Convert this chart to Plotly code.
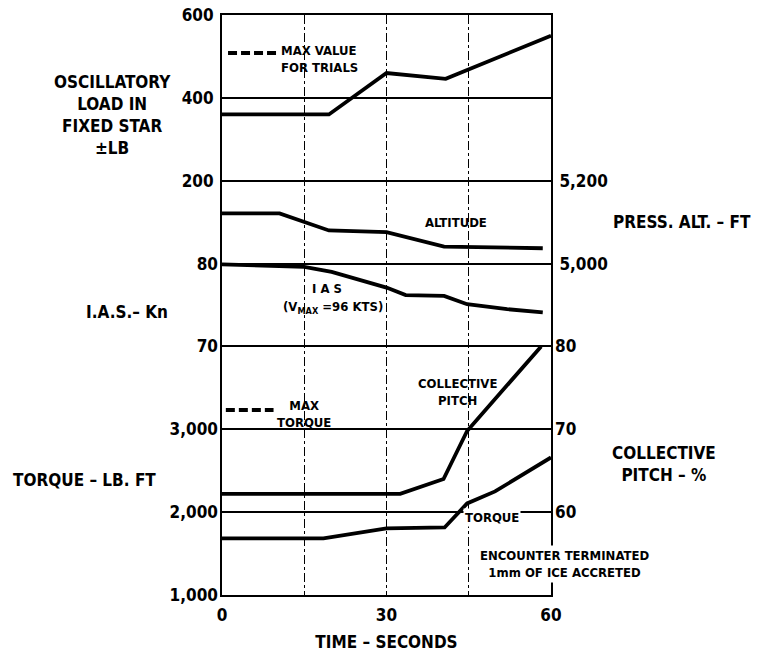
import plotly.graph_objects as go

# ---------------- data ----------------
t_load = [0, 19.5, 30, 40.8, 60]
osc_load = [360, 360, 460, 446, 550]

t_alt = [0, 10.5, 19.5, 30, 40.5, 58.5]
press_alt = [5121, 5121, 5080, 5076, 5041, 5037]

t_ias = [0, 15, 20, 24, 30, 33.5, 40.5, 44.7, 52, 58.5]
ias = [79.9, 79.6, 79.0, 78.2, 77.1, 76.2, 76.1, 75.1, 74.5, 74.1]

t_torque = [0, 18.5, 30, 40.6, 44.7, 49.8, 60]
torque = [1684, 1684, 1804, 1815, 2105, 2250, 2660]

t_coll = [0, 32.5, 40.4, 44.7, 58.2]
coll_pitch = [62.2, 62.2, 64.0, 69.8, 80.0]

# legend keys (dashed "max" samples)
key_load_t = [1.1, 10.0]
key_load_val = [508, 508]
key_torque_t = [0.7, 9.4]
key_torque_val = [3233, 3233]

# tick labels
x_ticks = [0, 30, 60]
x_minor = [15, 30, 45]
load_ticks = [200, 400, 600]
alt_ticks = [5000, 5200]
alt_text = ["5,000", "5,200"]
ias_ticks = [70, 80]
torque_ticks = [1000, 2000, 3000]
torque_text = ["1,000", "2,000", "3,000"]
coll_ticks = [60, 70, 80]

# ---------------- styling ----------------
FONT = "DejaVu Sans Condensed, DejaVu Sans, sans-serif"
BLACK = "#000000"
LW = 3.8
W, H = 767, 652
L, T, R, B = 222, 15, 216, 57
PW, PH = W - L - R, H - T - B


def px(x):
    return (x - L) / PW


def py(y):
    return (H - B - y) / PH


fig = go.Figure()
line = dict(color=BLACK, width=LW)
fig.add_trace(go.Scatter(x=t_load, y=osc_load, mode="lines", line=line, yaxis="y"))
fig.add_trace(go.Scatter(x=t_alt, y=press_alt, mode="lines", line=line, yaxis="y2"))
fig.add_trace(go.Scatter(x=t_ias, y=ias, mode="lines", line=line, yaxis="y3"))
fig.add_trace(go.Scatter(x=t_torque, y=torque, mode="lines", line=line, yaxis="y4"))
fig.add_trace(go.Scatter(x=t_coll, y=coll_pitch, mode="lines", line=line, yaxis="y5"))
dash = dict(color=BLACK, width=4, dash="9px,4px")
fig.add_trace(go.Scatter(x=key_load_t, y=key_load_val, mode="lines", line=dash, yaxis="y"))
fig.add_trace(go.Scatter(x=key_torque_t, y=key_torque_val, mode="lines", line=dash, yaxis="y4"))

tickfont = dict(family=FONT, size=17, color=BLACK, weight="bold")
common_y = dict(domain=[0, 1], ticks="", zeroline=False, tickfont=tickfont,
                ticklabelstandoff=3, fixedrange=True, automargin=False,
                ticklabeloverflow="allow")

fig.update_layout(
    width=W, height=H,
    margin=dict(l=L, r=R, t=T, b=B, autoexpand=False),
    paper_bgcolor="white", plot_bgcolor="white",
    showlegend=False,
    xaxis=dict(range=[0, 60], domain=[0, 1], tickvals=x_ticks, ticks="",
               showgrid=False, zeroline=False, showline=True, mirror=True,
               linecolor=BLACK, linewidth=2, tickfont=tickfont, fixedrange=True,
               ticklabelstandoff=4, automargin=False, ticklabeloverflow="allow",
               minor=dict(tickvals=x_minor, showgrid=True, gridcolor=BLACK,
                          gridwidth=1, griddash="dashdot", ticks=""),
               title=dict(text="TIME – SECONDS", standoff=14,
                          font=dict(family=FONT, size=17, color=BLACK, weight="bold"))),
    yaxis=dict(range=[-800, 600], tickvals=load_ticks, side="left",
               showgrid=True, gridcolor=BLACK, gridwidth=2,
               showline=True, linecolor=BLACK, linewidth=2, **common_y),
    yaxis2=dict(range=[4200, 5600], tickvals=alt_ticks, ticktext=alt_text,
                side="right", overlaying="y", showgrid=False,
                showline=True, linecolor=BLACK, linewidth=2, **common_y),
    yaxis3=dict(range=[40, 110], tickvals=ias_ticks, side="left", overlaying="y",
                showgrid=True, gridcolor=BLACK, gridwidth=2, showline=False, **common_y),
    yaxis4=dict(range=[1000, 8000], tickvals=torque_ticks, ticktext=torque_text,
                side="left", overlaying="y",
                showgrid=True, gridcolor=BLACK, gridwidth=2, showline=False, **common_y),
    yaxis5=dict(range=[50, 120], tickvals=coll_ticks, side="right", overlaying="y",
                showgrid=False, showline=False, **common_y),
)

big = dict(family=FONT, size=17, color=BLACK, weight="bold")
small = dict(family=FONT, size=13, color=BLACK, weight="bold")


def ann(text, x, y, font, xanchor="center", **kw):
    fig.add_annotation(text=text, x=px(x), y=py(y), xref="paper", yref="paper",
                       showarrow=False, xanchor=xanchor, yanchor="middle",
                       font=font, **kw)


# outside titles
ann("OSCILLATORY<br>LOAD IN<br>FIXED STAR<br>±LB", 112, 115, big)
ann("I.A.S.– Kn", 127, 312, big)
ann("TORQUE – LB. FT", 84, 480, big)
ann("PRESS. ALT. – FT", 682, 222, big)
ann("COLLECTIVE<br>PITCH – %", 664, 464, big)

# in-plot labels
ann("MAX VALUE<br>FOR TRIALS", 279, 59, small, xanchor="left", align="left")
ann("ALTITUDE", 456, 222, small)
ann("I A S", 327, 288, small)
ann("(V<sub>MAX</sub> =96 KTS)", 333, 307, small)
ann("MAX<br>TORQUE", 304, 414, small)
ann("COLLECTIVE<br>PITCH", 457, 392, small)
ann("TORQUE", 492, 517, small, bgcolor="white", borderpad=1)
ann("ENCOUNTER TERMINATED<br>1mm OF ICE ACCRETED", 564, 564, small,
    bgcolor="white", borderpad=2)

# remove the default page margin so the figure sits at the window's top-left
fig.write_html("out.html", config={"displayModeBar": False},
               post_script="document.body.style.margin='0';")
